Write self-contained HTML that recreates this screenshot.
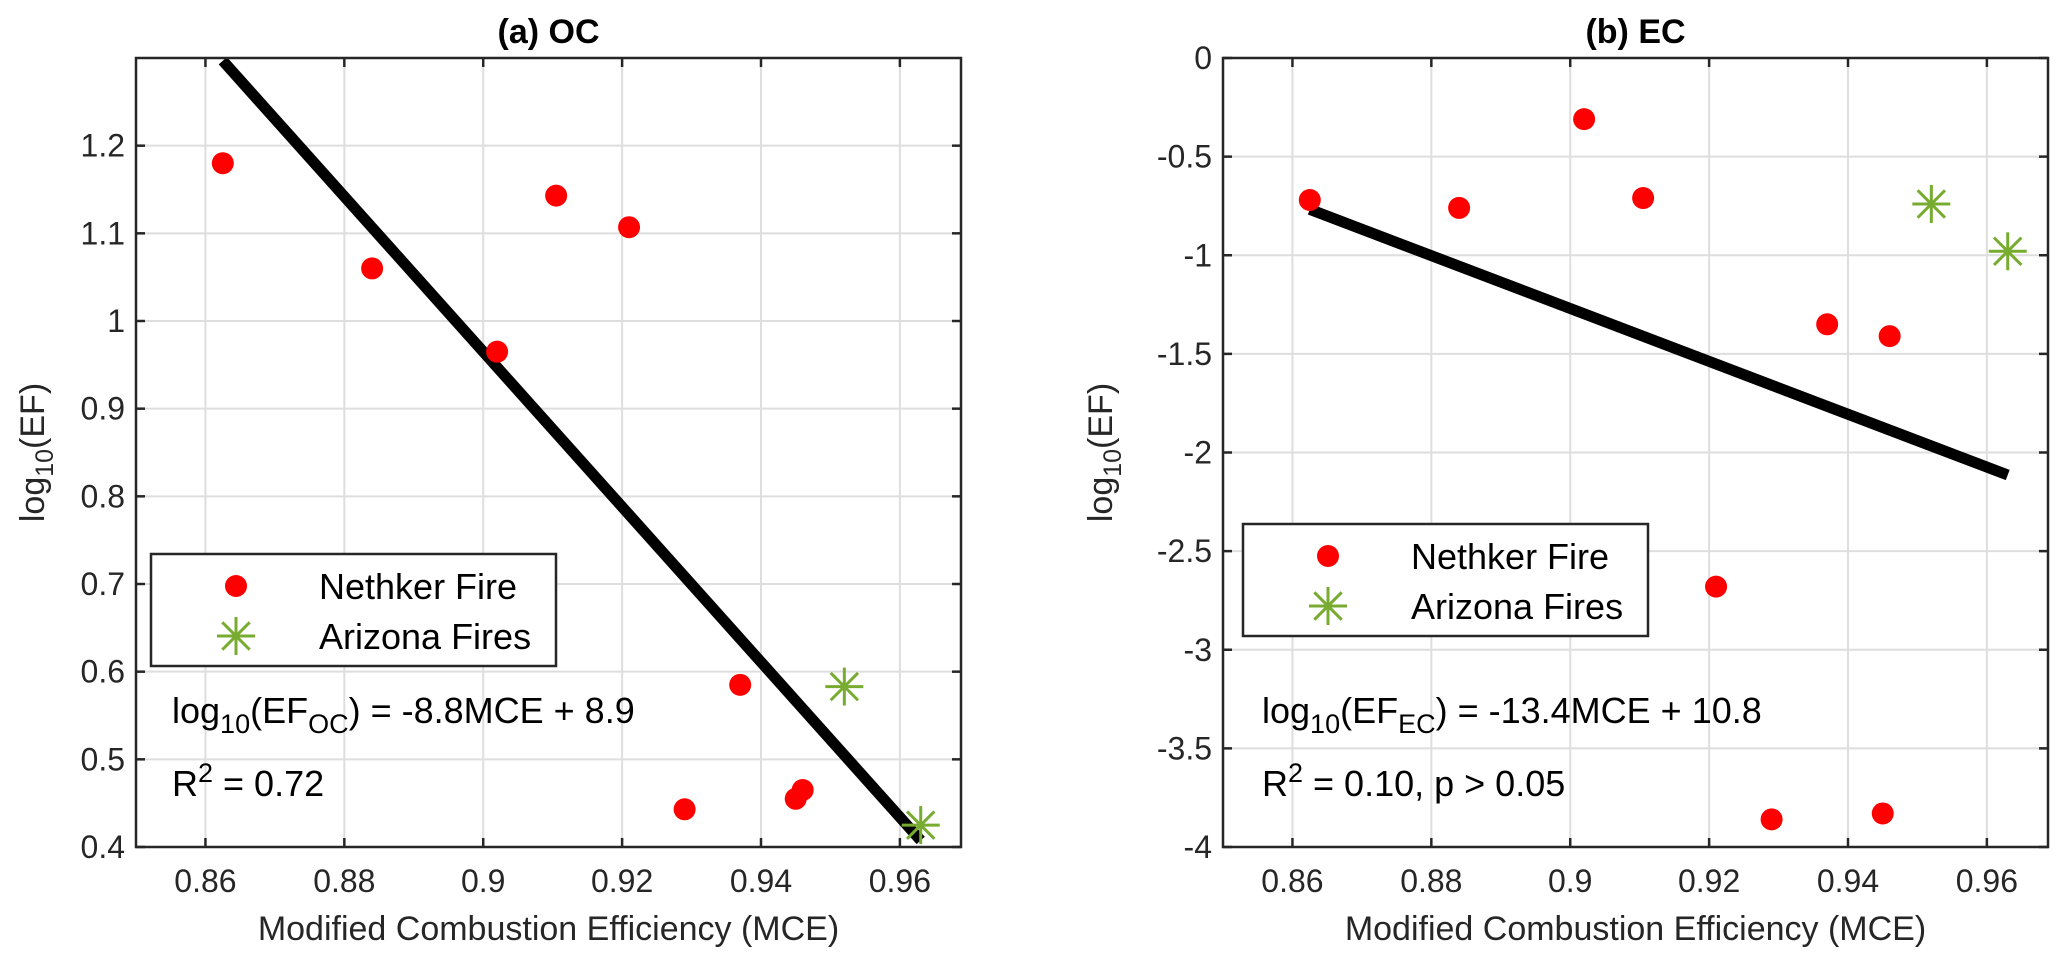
<!DOCTYPE html>
<html><head><meta charset="utf-8"><style>
html,body{margin:0;padding:0;background:#fff;}
svg{display:block;font-family:"Liberation Sans",Arial,sans-serif;}
</style></head><body>
<svg id="fig" width="2067" height="968" viewBox="0 0 2067 968"></svg>
<script>
const mceOC = [0.8625,0.884,0.902,0.9105,0.921,0.929,0.937,0.945,0.946];
const efOC = [1.18,1.06,0.965,1.143,1.107,0.443,0.585,0.455,0.465];
const mceAzOC = [0.952,0.963];
const efAzOC = [0.583,0.425];
const fitOC = [-8.85,8.93];
const mceEC = [0.8625,0.884,0.902,0.9105,0.921,0.929,0.937,0.945,0.946];
const efEC = [-0.72,-0.76,-0.31,-0.71,-2.68,-3.86,-1.35,-3.83,-1.41];
const mceAzEC = [0.952,0.963];
const efAzEC = [-0.74,-0.98];
const fitEC = [-13.4,10.79];
const fitRange = [0.8625,0.963];
const xTicks = [0.86,0.88,0.9,0.92,0.94,0.96];
const xTickLabels = ["0.86","0.88","0.9","0.92","0.94","0.96"];
const yTicksOC = [0.4,0.5,0.6,0.7,0.8,0.9,1,1.1,1.2];
const yTickLabelsOC = ["0.4","0.5","0.6","0.7","0.8","0.9","1","1.1","1.2"];
const yTicksEC = [0,-0.5,-1,-1.5,-2,-2.5,-3,-3.5,-4];
const yTickLabelsEC = ["0","-0.5","-1","-1.5","-2","-2.5","-3","-3.5","-4"];

const NS="http://www.w3.org/2000/svg";
const svg=document.getElementById('fig');
function mk(tag,attrs,parent){const e=document.createElementNS(NS,tag);for(const k in attrs)e.setAttribute(k,attrs[k]);(parent||svg).appendChild(e);return e;}

function panel(cfg){
  const g=mk('g',{});
  
  
  const L=cfg.left,R=cfg.left+825,T=58,B=847;
  const xs=v=>L+(v-0.85)/(0.9688-0.85)*(R-L);
  const ys=v=>B-(v-cfg.ymin)/(cfg.ymax-cfg.ymin)*(B-T);
  const clip=mk('clipPath',{id:'clip'+cfg.id},g);
  mk('rect',{x:L,y:T,width:R-L,height:B-T},clip);
  // grid
  xTicks.forEach((t,i)=>{
    const l=mk('line',{x1:xs(t),x2:xs(t),y1:T,y2:B,stroke:'#dedede','stroke-width':2},g);
    
    
  });
  cfg.yt.forEach(t=>{
    const l=mk('line',{x1:L,x2:R,y1:ys(t),y2:ys(t),stroke:'#dedede','stroke-width':2},g);
    
    
  });
  // ticks and labels
  xTicks.forEach((t,i)=>{
    mk('line',{x1:xs(t),x2:xs(t),y1:B,y2:B-9,stroke:'#262626','stroke-width':2.5},g);
    mk('line',{x1:xs(t),x2:xs(t),y1:T,y2:T+9,stroke:'#262626','stroke-width':2.5},g);
    const tx=mk('text',{x:xs(t),y:892,'text-anchor':'middle','font-size':32,fill:'#262626'},g);
    tx.textContent=xTickLabels[i];
    
    
  });
  cfg.yt.forEach((t,i)=>{
    mk('line',{x1:L,x2:L+9,y1:ys(t),y2:ys(t),stroke:'#262626','stroke-width':2.5},g);
    mk('line',{x1:R,x2:R-9,y1:ys(t),y2:ys(t),stroke:'#262626','stroke-width':2.5},g);
    const tx=mk('text',{x:L-11,y:ys(t)+11,'text-anchor':'end','font-size':32,fill:'#262626'},g);
    tx.textContent=cfg.ytl[i];
    
    
  });
  // fit line
  const fl=mk('line',{x1:xs(fitRange[0]),y1:ys(cfg.fit[0]*fitRange[0]+cfg.fit[1]),x2:xs(fitRange[1]),y2:ys(cfg.fit[0]*fitRange[1]+cfg.fit[1]),stroke:'#000','stroke-width':11,'clip-path':'url(#clip'+cfg.id+')'},g);
  
  
  // points
  cfg.mx.forEach((m,i)=>{
    const c=mk('circle',{cx:xs(m),cy:ys(cfg.my[i]),r:11,fill:'#ff0000'},g);
    
    
  });
  cfg.ax.forEach((m,i)=>star(g,xs(m),ys(cfg.ay[i]),'arizona-point'));
  // axes box
  const bx=mk('rect',{x:L,y:T,width:R-L,height:B-T,fill:'none',stroke:'#262626','stroke-width':2.5},g);
  
  
  // legend
  const lg=mk('g',{},g);
  
  
  const lx=cfg.leg[0],ly=cfg.leg[1],lw=cfg.leg[2];
  mk('rect',{x:lx,y:ly,width:lw,height:112,fill:'#fff',stroke:'#262626','stroke-width':2.5},lg);
  mk('circle',{cx:lx+85,cy:ly+32,r:11,fill:'#ff0000'},lg);
  star(lg,lx+85,ly+82,'legend-arizona-marker');
  const t1=mk('text',{x:lx+168,y:ly+45,'font-size':36,fill:'#000'},lg);t1.textContent='Nethker Fire';
  const t2=mk('text',{x:lx+168,y:ly+95,'font-size':36,fill:'#000'},lg);t2.textContent='Arizona Fires';
  // equation
  const eq=mk('text',{x:cfg.eqx,y:723,'font-size':36,fill:'#000'},g);
  
  
  eq.innerHTML='log<tspan dy="10" font-size="27">10</tspan><tspan dy="-10">(EF</tspan><tspan dy="10" font-size="27">'+cfg.sub+'</tspan><tspan dy="-10">) = '+cfg.eq+'</tspan>';
  const r2=mk('text',{x:cfg.eqx,y:796,'font-size':36,fill:'#000'},g);
  
  
  r2.innerHTML='R<tspan dy="-14" font-size="27">2</tspan><tspan dy="14"> = '+cfg.r2+'</tspan>';
  // title & axis labels
  const ti=mk('text',{x:(L+R)/2,y:43,'text-anchor':'middle','font-size':34,'font-weight':'bold',fill:'#000'},g);
  ti.textContent=cfg.title;
  
  
  const xl=mk('text',{x:(L+R)/2,y:940,'text-anchor':'middle','font-size':34,fill:'#262626'},g);
  xl.textContent='Modified Combustion Efficiency (MCE)';
  
  
  const yl=mk('text',{x:0,y:0,'text-anchor':'middle','font-size':34,fill:'#262626',transform:'translate('+cfg.ylx+','+((T+B)/2)+') rotate(-90)'},g);
  yl.innerHTML='log<tspan dy="9" font-size="25">10</tspan><tspan dy="-9">(EF)</tspan>';
  
  
}
function star(parent,cx,cy,name){
  const s=mk('g',{stroke:'#77ac30','stroke-width':3},parent);
  
  
  const r=19,d=r*0.72;
  mk('line',{x1:cx-r,y1:cy,x2:cx+r,y2:cy},s);
  mk('line',{x1:cx,y1:cy-r,x2:cx,y2:cy+r},s);
  mk('line',{x1:cx-d,y1:cy-d,x2:cx+d,y2:cy+d},s);
  mk('line',{x1:cx-d,y1:cy+d,x2:cx+d,y2:cy-d},s);
}
panel({id:'a',name:'panel-oc',left:136,ymin:0.4,ymax:1.3,yt:yTicksOC,ytl:yTickLabelsOC,fit:fitOC,
  mx:mceOC,my:efOC,ax:mceAzOC,ay:efAzOC,leg:[151,554,405],eqx:172,sub:'OC',eq:'-8.8MCE + 8.9',r2:'0.72',title:'(a) OC',ylx:44});
panel({id:'b',name:'panel-ec',left:1223,ymin:-4,ymax:0,yt:yTicksEC,ytl:yTickLabelsEC,fit:fitEC,
  mx:mceEC,my:efEC,ax:mceAzEC,ay:efAzEC,leg:[1243,524,405],eqx:1262,sub:'EC',eq:'-13.4MCE + 10.8',r2:'0.10, p &gt; 0.05',title:'(b) EC',ylx:1112});
</script>
</body></html>
